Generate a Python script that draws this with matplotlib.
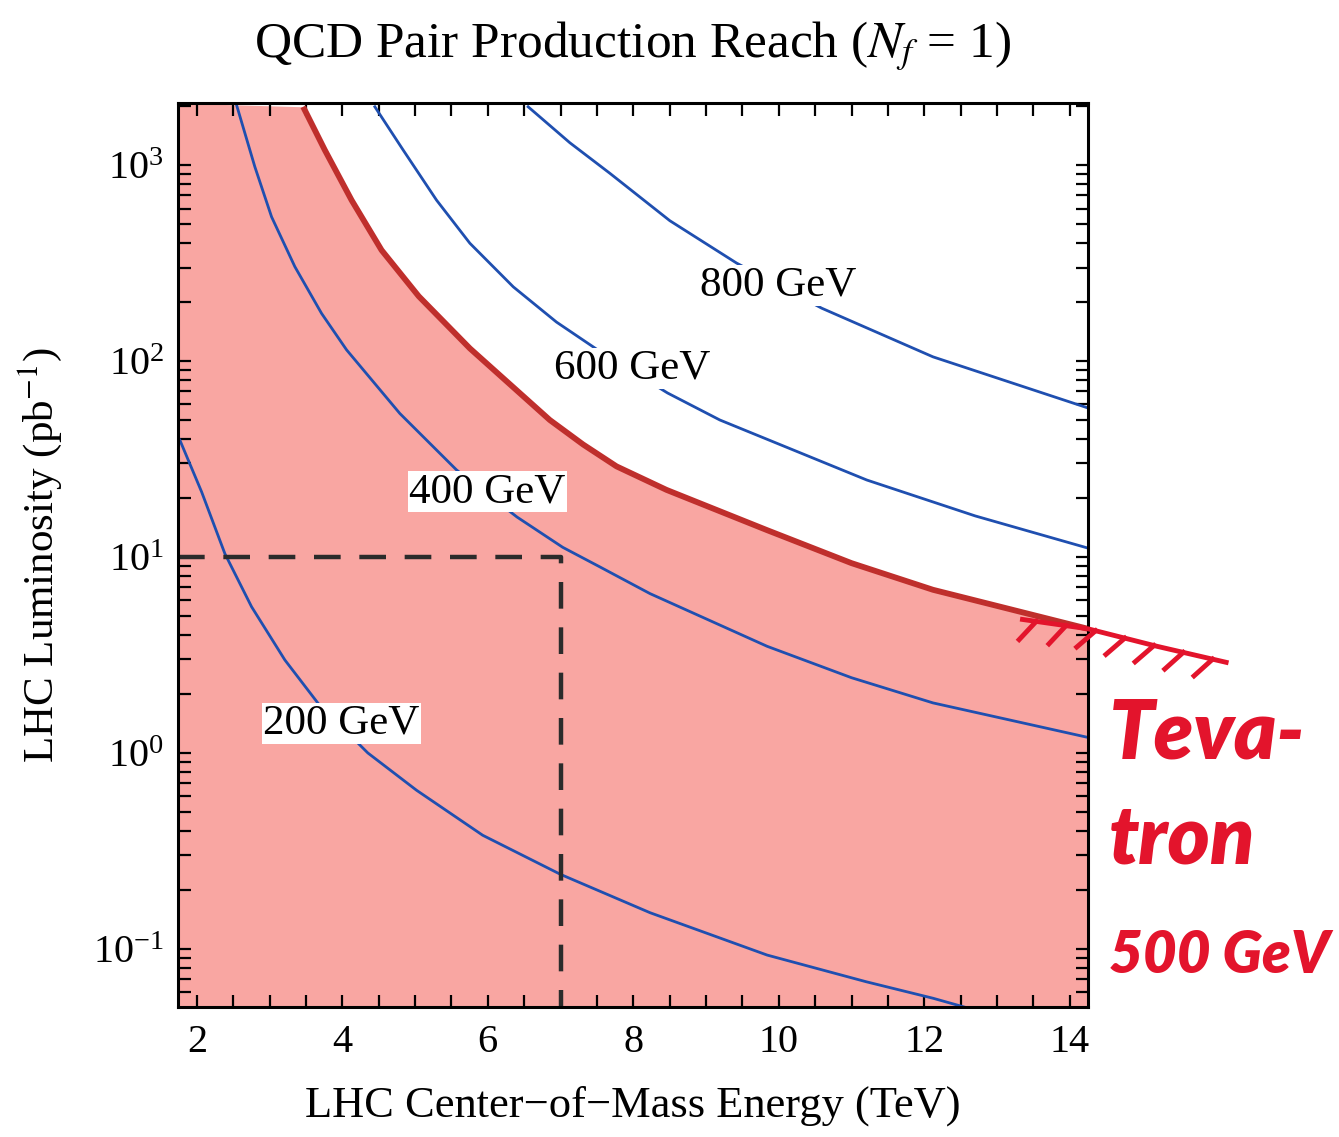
import numpy as np
import matplotlib
matplotlib.use("Agg")
import matplotlib.pyplot as plt
from matplotlib import patheffects
from matplotlib.ticker import MultipleLocator, LogLocator, NullFormatter

plt.rcParams['font.family'] = ['Liberation Serif', 'DejaVu Serif']
plt.rcParams['mathtext.fontset'] = 'stix'

# curves: energy (TeV) vs luminosity (pb^-1)
x200 = [1.766, 2.065, 2.385, 2.752, 3.21, 3.667, 4.35, 5.02, 5.93, 7.0, 8.23, 9.84, 11.2, 12.12, 12.55]
y200 = [39.5, 21.5, 10.4, 5.57, 2.98, 1.79, 1.0, 0.645, 0.38, 0.24, 0.153, 0.093, 0.068, 0.056, 0.0505]

x400 = [2.546, 2.797, 3.027, 3.347, 3.714, 4.058, 4.79, 5.57, 6.40, 7.03, 7.54, 8.23, 9.84, 11.0, 12.12, 14.25]
y400 = [2023, 980, 544, 303, 175, 114, 54, 27.8, 16, 11.2, 8.9, 6.5, 3.5, 2.42, 1.8, 1.2]

x500 = [3.461, 3.759, 4.127, 4.539, 5.05, 5.753, 6.852, 7.31, 7.769, 8.456, 9.84, 11.0, 12.12, 14.25]
y500 = [1983, 1193, 662, 368, 214, 116, 50, 37.5, 29, 22.0, 13.7, 9.3, 6.8, 4.3]

x600 = [4.447, 4.836, 5.295, 5.753, 6.35, 6.944, 7.494, 8.47, 9.19, 11.21, 12.7, 14.25]
y600 = [1983, 1193, 662, 399, 239, 158, 115, 68.7, 50, 24.7, 16.2, 11.1]

x800 = [6.554, 7.127, 7.677, 8.502, 9.42, 10.59, 12.12, 14.25]
y800 = [1983, 1300, 908, 520, 316, 186, 105, 57.6]

labels = ["200 GeV", "400 GeV", "600 GeV", "800 GeV"]
label_x = [3.99, 5.99, 7.98, 9.99]
label_y = [1.41, 21.5, 92, 244]

# 7 TeV / 10 pb^-1 guide
guide_x = 7.0
guide_y = 10.0

# hand drawn Tevatron reach mark
tev_x = [13.35, 14.25, 15.2, 16.15]
tev_y = [4.8, 4.3, 3.5, 2.9]

xlim = (1.74, 14.25)
ylim = (0.0505, 2070)

fig = plt.figure(figsize=(13.39, 11.37), dpi=100)
ax = fig.add_axes([0.1329, 0.1143, 0.6796, 0.795])
ax.set_yscale('log')
ax.set_xlim(*xlim)
ax.set_ylim(*ylim)

pink = '#f9a6a2'
ax.fill_between([xlim[0]] + x500, [ylim[1]] + y500, ylim[0], color=pink, lw=0, zorder=1)

blue = '#1f4fb0'
for xs, ys in [(x200, y200), (x400, y400), (x600, y600), (x800, y800)]:
    ax.plot(xs, ys, color=blue, lw=2.0, zorder=3)
ax.plot(x500, y500, color='#bf2f2c', lw=4.2, zorder=4, solid_capstyle='butt')

ax.plot([xlim[0], guide_x, guide_x], [guide_y, guide_y, ylim[0]], color='#2b2b2b',
        lw=3.2, dashes=(6, 4.2), zorder=5)

for t, lx, ly in zip(labels, label_x, label_y):
    ax.text(lx, ly, t, fontsize=31, ha='center', va='center', zorder=6,
            bbox=dict(facecolor='white', edgecolor='none', pad=1))

ax.xaxis.set_major_locator(MultipleLocator(2))
ax.xaxis.set_minor_locator(MultipleLocator(0.5))
ax.yaxis.set_major_locator(LogLocator(base=10, numticks=10))
ax.yaxis.set_minor_locator(LogLocator(base=10, subs=np.arange(2, 10), numticks=20))
ax.yaxis.set_minor_formatter(NullFormatter())
ax.tick_params(which='both', direction='in', top=True, right=True, length=9, width=1.6)
ax.tick_params(axis='x', labelsize=29, pad=12)
ax.tick_params(axis='y', labelsize=29, pad=10)
for s in ax.spines.values():
    s.set_linewidth(2.2)
    s.set_zorder(7)

ax.set_xlabel('LHC Center\u2212of\u2212Mass Energy (TeV)', fontsize=32, labelpad=18)
ax.set_ylabel(r'LHC Luminosity (pb$^{-1}$)', fontsize=31, labelpad=21)
ax.set_title(r'QCD Pair Production Reach ($N_f$ = 1)', fontsize=37, pad=33)

red = '#e3142c'
tl, = ax.plot(tev_x, tev_y, color=red, lw=3.5, clip_on=False, zorder=8)
tl.set_path_effects([patheffects.withTickedStroke(angle=-125, spacing=20, length=0.9,
                                                  linewidth=3.5, foreground=red)])
for txt, yy, fs in [("Teva-", 0.354, 58), ("tron", 0.261, 58), ("500 GeV", 0.160, 42)]:
    fig.text(0.828, yy, txt, color=red, fontsize=fs, family='Lato', fontweight='heavy',
             style='italic', ha='left', va='center')

fig.savefig('out.png', dpi=100)
